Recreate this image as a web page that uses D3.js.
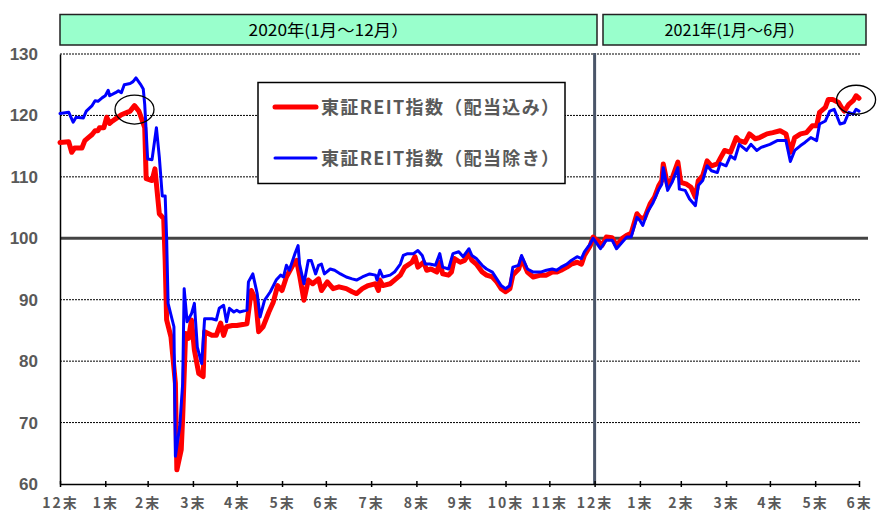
<!DOCTYPE html>
<html lang="ja">
<head>
<meta charset="UTF-8">
<title>東証REIT指数</title>
<style>
  body { margin: 0; background: #fff; }
  svg { display: block; }
  text { font-family: "Noto Sans CJK JP", "Noto Sans", sans-serif; }
</style>
</head>
<body>
<svg width="881" height="514"></svg>
<script src="https://d3js.org/d3.v7.min.js"></script>
<script>
// day offsets from 2019-12-31 and index values
var redDays = [0,6,8,10,15,17,19,22,24,26,27,30,32,34,36,39,42,46,48,51,54,56,58,59,63,65,68,71,72,73,76,79,80,83,84,86,88,90,92,95,98,99,104,107,110,112,114,118,121,128,131,134,136,139,143,146,149,152,155,160,162,164,167,170,173,177,179,183,187,191,196,200,203,207,211,216,218,219,221,226,229,233,236,241,243,245,249,251,254,258,260,262,266,268,270,274,277,280,282,285,289,292,296,299,302,305,308,310,314,316,320,324,329,333,337,340,343,347,350,354,357,359,363,365,369,371,374,378,381,385,388,391,395,397,400,404,407,410,412,413,416,419,423,425,429,432,435,437,440,443,446,450,452,455,459,463,465,469,472,476,479,484,488,493,497,500,503,507,511,515,518,520,524,526,529,533,535,537,540,543,545,547];
var redValues = [115.6,115.7,114.0,114.7,114.7,115.9,116.3,116.9,117.5,117.5,118.0,118.0,119.7,118.7,119.1,119.6,120.1,120.5,120.7,121.6,120.7,119.4,118.0,109.7,109.4,111.3,104.0,103.2,96.4,86.7,83.9,76.4,62.3,65.6,71.0,84.5,83.7,86.7,81.8,78.0,77.5,84.8,84.2,84.2,86.2,84.2,85.6,85.8,85.8,86.1,91.5,89.9,84.8,85.6,88.0,89.6,92.3,91.5,93.7,95.9,96.4,94.0,89.9,93.2,92.6,93.4,91.5,92.9,91.8,92.1,91.8,91.3,91.0,91.8,92.3,92.6,91.5,93.2,92.3,92.6,93.2,94.0,95.3,96.1,97.0,95.3,96.1,94.8,95.0,94.5,96.1,94.2,94.0,94.5,96.7,96.1,96.4,97.5,96.4,95.8,94.5,94.0,93.7,92.9,91.8,91.3,91.8,94.0,95.0,96.7,94.5,93.7,94.0,94.0,94.5,94.5,94.8,95.3,95.8,96.1,95.8,97.2,98.8,100.2,99.4,98.8,100.2,100.1,98.8,100.0,100.5,100.8,104.0,103.4,103.2,105.6,106.7,108.6,109.4,112.1,108.6,109.7,112.4,109.1,108.8,108.3,106.7,109.4,110.2,112.6,111.8,112.1,113.0,114.3,114.0,116.4,115.9,115.6,117.0,116.2,116.4,117.0,117.2,117.5,117.0,114.0,116.4,117.0,117.2,118.3,118.3,120.5,121.3,122.6,122.6,122.1,121.3,120.7,121.8,122.4,123.2,122.8];

var blueDays = [0,6,9,11,16,18,22,24,26,29,31,33,34,38,40,42,44,48,50,52,55,57,58,60,63,66,68,70,72,73,74,78,79,82,84,85,87,90,92,94,97,99,104,107,109,112,114,116,119,121,123,128,129,132,135,137,140,144,148,151,153,155,157,161,163,164,167,170,172,175,177,179,181,185,188,192,196,200,203,207,212,216,217,219,221,226,229,233,235,238,242,245,248,250,253,257,260,262,266,269,273,276,280,282,285,289,292,296,299,302,305,308,310,314,316,320,324,329,333,337,340,343,347,350,354,357,359,363,365,370,374,378,381,385,388,391,395,397,399,402,406,410,412,413,416,419,423,424,428,431,435,437,440,443,446,450,452,456,459,462,465,470,473,477,480,486,491,497,500,503,507,510,514,518,520,524,527,530,534,537,540,543,545,547];
var blueValues = [120.3,120.5,118.9,119.7,119.6,120.7,121.6,122.4,122.3,122.9,123.2,124.1,123.2,123.7,124.0,123.7,125.0,125.2,125.5,126.1,125.1,124.3,121.8,112.9,112.8,118.0,113.2,106.9,106.9,100.0,89.4,85.6,64.5,69.4,76.4,91.8,86.4,87.7,89.4,82.3,79.6,86.9,86.9,86.7,88.6,89.1,86.4,88.6,88.0,88.3,88.0,88.3,92.9,94.2,91.0,87.2,89.9,91.3,93.2,94.0,93.7,95.6,94.8,97.6,98.8,95.8,92.6,96.4,96.4,94.2,95.6,95.8,94.2,95.0,94.8,94.2,93.7,93.4,93.2,93.7,94.2,94.0,93.2,94.8,93.7,94.0,94.5,95.8,97.2,97.5,97.5,98.0,97.2,95.8,95.8,95.6,97.5,95.3,95.0,97.5,97.8,97.0,98.3,97.2,96.7,95.6,95.0,94.5,93.4,92.3,91.8,92.3,95.3,95.6,97.2,95.0,94.5,94.5,94.8,95.0,94.8,95.3,95.8,96.4,97.0,96.7,97.8,99.1,100.0,98.3,99.7,99.7,98.3,99.4,100.2,100.2,103.4,102.9,102.1,104.2,105.8,108.0,108.8,111.5,107.8,109.1,111.5,108.0,107.8,106.4,105.3,108.6,109.4,111.8,111.0,110.7,112.2,111.8,113.4,112.9,115.3,114.3,115.3,114.3,114.8,115.3,115.9,115.9,112.5,114.3,115.1,115.6,116.4,115.9,118.6,119.1,120.7,121.0,118.6,118.8,120.5,120.2,121.0,120.7];

var seriesNames = ["東証REIT指数（配当込み）", "東証REIT指数（配当除き）"];
var periodLabels = ["2020年(1月～12月）", "2021年(1月～6月）"];
var yTicks = [60, 70, 80, 90, 100, 110, 120, 130];

var svg = d3.select("svg");
var start = new Date(2019, 11, 31);
function toDate(d) { return new Date(2019, 11, 31 + d); }

var x = d3.scaleTime().domain([start, new Date(2021, 5, 30)]).range([60, 859]);
var y = d3.scaleLinear().domain([60, 130]).range([484, 54]);

// month ends 12末 .. 6末
var monthEnds = d3.range(0, 19).map(function (i) { return new Date(2020, i, 0); });

// period header boxes
var periods = [
  { label: periodLabels[0], x0: 60, x1: 597, w: 160 },
  { label: periodLabels[1], x0: 603, x1: 866, w: 140 }
];
var hdr = svg.selectAll(".period").data(periods).enter().append("g");
hdr.append("rect")
  .attr("x", d => d.x0).attr("y", 14.5)
  .attr("width", d => d.x1 - d.x0).attr("height", 30.5)
  .attr("fill", "#99ffcc").attr("stroke", "#222").attr("stroke-width", 1.5);
hdr.append("text")
  .attr("x", d => (d.x0 + d.x1) / 2).attr("y", 36)
  .attr("text-anchor", "middle")
  .attr("font-size", 16).attr("fill", "#000")
  .attr("textLength", d => d.w).attr("lengthAdjust", "spacingAndGlyphs")
  .text(d => d.label);

// gridlines
svg.selectAll(".grid").data(yTicks.filter(v => v !== 60 && v !== 100)).enter()
  .append("line")
  .attr("x1", 60).attr("x2", 861)
  .attr("y1", d => y(d)).attr("y2", d => y(d))
  .attr("stroke", "#000").attr("stroke-width", 1)
  .attr("stroke-dasharray", "2,1");

// year separator
svg.append("line")
  .attr("x1", x(new Date(2020, 11, 31))).attr("x2", x(new Date(2020, 11, 31)))
  .attr("y1", 53).attr("y2", 484)
  .attr("stroke", "#4a5568").attr("stroke-width", 3);

// 100 base line
svg.append("line")
  .attr("x1", 60).attr("x2", 868)
  .attr("y1", y(100)).attr("y2", y(100))
  .attr("stroke", "#444").attr("stroke-width", 3);

// axes
var yAxis = svg.append("g").attr("transform", "translate(60,0)")
  .call(d3.axisLeft(y).tickValues(yTicks).tickSize(0).tickPadding(22).tickFormat(d3.format("d")));
yAxis.select(".domain").attr("stroke", "#000").attr("stroke-width", 1.5);
yAxis.selectAll("text")
  .attr("font-size", 17).attr("font-weight", "bold").attr("fill", "#595959")
  .style("font-family", "'Liberation Sans', Arial, sans-serif");

var xAxis = svg.append("g").attr("transform", "translate(0,484)")
  .call(d3.axisBottom(x).tickValues(monthEnds).tickSizeInner(3).tickSizeOuter(0).tickPadding(11)
    .tickFormat(d => (d.getMonth() + 1) + "末"));
xAxis.select(".domain").attr("stroke", "#000").attr("stroke-width", 1.5);
xAxis.selectAll(".tick line").attr("y1", -3).attr("y2", 3).attr("stroke", "#000").attr("stroke-width", 1.5);
xAxis.selectAll("text")
  .attr("font-size", 14).attr("font-weight", "bold").attr("fill", "#595959")
  .attr("letter-spacing", 2)
  .style("font-family", "'Noto Sans CJK JP', sans-serif");

// series lines
var line = d3.line()
  .x(d => x(toDate(d[0])))
  .y(d => y(d[1]));

svg.append("path")
  .datum(d3.zip(redDays, redValues))
  .attr("fill", "none").attr("stroke", "#ff0000").attr("stroke-width", 5)
  .attr("stroke-linejoin", "round").attr("stroke-linecap", "round")
  .attr("d", line);

svg.append("path")
  .datum(d3.zip(blueDays, blueValues))
  .attr("fill", "none").attr("stroke", "#0000ff").attr("stroke-width", 3)
  .attr("stroke-linejoin", "round").attr("stroke-linecap", "round")
  .attr("d", line);

// highlight circles
var marks = [[51, 121.6], [545, 123.2]];
svg.selectAll(".mark").data(marks).enter().append("ellipse")
  .attr("cx", d => x(toDate(d[0])))
  .attr("cy", d => y(d[1]) + 4)
  .attr("rx", 19.5).attr("ry", 14.5)
  .attr("fill", "none").attr("stroke", "#000").attr("stroke-width", 1.3);

// legend
var legend = svg.append("g");
legend.append("rect")
  .attr("x", 258).attr("y", 82.5).attr("width", 307).attr("height", 101)
  .attr("fill", "#fff").attr("stroke", "#000").attr("stroke-width", 1.5);
var items = legend.selectAll(".item").data([
  { name: seriesNames[0], color: "#ff0000", w: 5 },
  { name: seriesNames[1], color: "#0000ff", w: 3 }
]).enter().append("g")
  .attr("transform", (d, i) => "translate(0," + (107 + i * 51) + ")");
items.append("line")
  .attr("x1", 275).attr("x2", 316)
  .attr("stroke", d => d.color).attr("stroke-width", d => d.w)
  .attr("stroke-linecap", "round");
items.append("text")
  .attr("x", 321).attr("y", 6.5)
  .attr("font-size", 18).attr("font-weight", "bold").attr("fill", "#595959")
  .attr("textLength", 238).attr("lengthAdjust", "spacing")
  .text(d => d.name);
</script>
</body>
</html>
